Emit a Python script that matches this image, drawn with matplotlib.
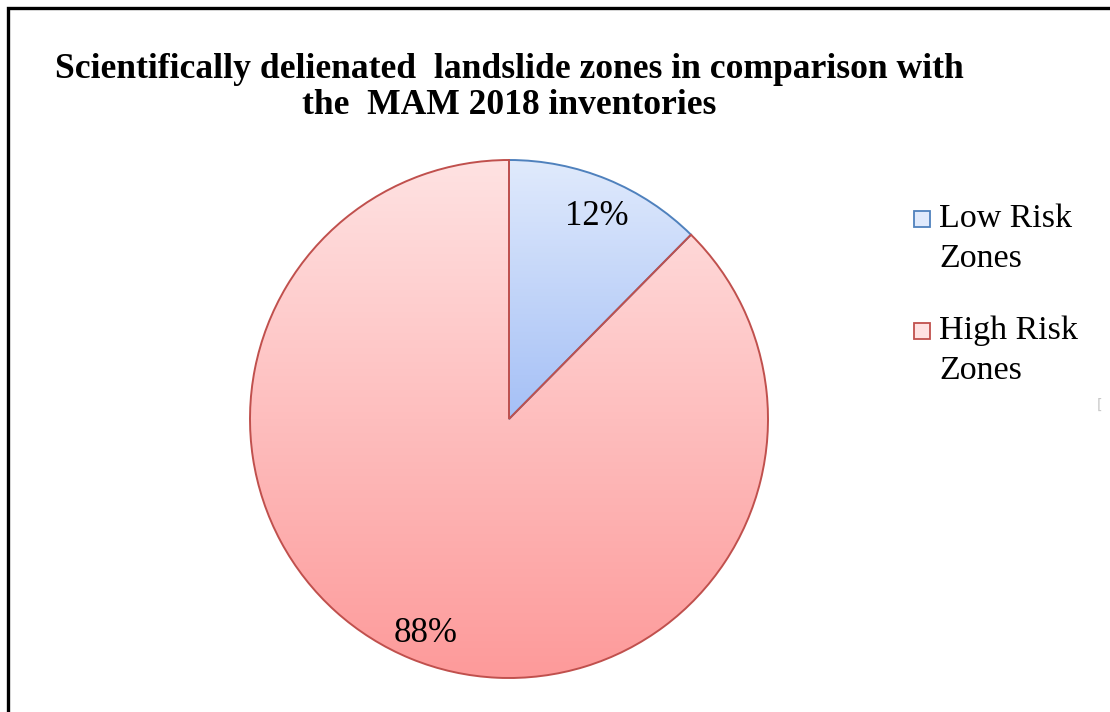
import matplotlib.pyplot as plt
import numpy as np
from matplotlib.colors import LinearSegmentedColormap
from matplotlib.patches import Rectangle

# data
labels = ["Low Risk\nZones", "High Risk\nZones"]
shares = [12.4, 87.6]
title_lines = ["Scientifically delienated  landslide zones in comparison with",
               "the  MAM 2018 inventories"]

# styles
tops = ["#e0eafc", "#ffe2e2"]
bottoms = ["#a5c0f6", "#fd9a9a"]
edges = ["#4f81bd", "#c0504d"]
serif = "Liberation Serif"

W, H = 1110, 712
fig = plt.figure(figsize=(W / 100, H / 100), dpi=100)
ax = fig.add_axes([0, 0, 1, 1])

cx, cy, r = 509, H - 419, 259
wedges, _, pcts = ax.pie(shares, startangle=90, counterclock=False,
                         center=(cx, cy), radius=r, frame=True,
                         autopct=lambda p: f"{p:.0f}%", pctdistance=0.87,
                         wedgeprops=dict(linewidth=1.4),
                         textprops=dict(family=serif, fontsize=25))
ax.set_xlim(0, W)
ax.set_ylim(0, H)
ax.set_aspect("equal")
ax.axis("off")

# gradient fill per wedge, top to bottom of each wedge
grad = np.linspace(0, 1, 256).reshape(-1, 1)
for w, t, b, e in zip(wedges, tops, bottoms, edges):
    w.set_facecolor("none")
    w.set_edgecolor(e)
    w.set_zorder(3)
    bb = w.get_path().get_extents()
    cmap = LinearSegmentedColormap.from_list("g", [t, b])
    im = ax.imshow(grad, cmap=cmap, extent=(bb.x0, bb.x1, bb.y0, bb.y1),
                   origin="upper", aspect="auto", zorder=2)
    im.set_clip_path(w)
for t in pcts:
    t.set_zorder(4)
    x, y = t.get_position()
    t.set_position((x + 2, y - 6))  # small nudge like the original labels

# title
fig.text(509, H - 70, title_lines[0], transform=None, fontsize=25.6,
         family=serif, fontweight="bold", ha="center", va="center")
fig.text(509, H - 105, title_lines[1], transform=None, fontsize=25.6,
         family=serif, fontweight="bold", ha="center", va="center")

# legend drawn by hand: swatch beside the first line of each label
for i, lab in enumerate(labels):
    y0 = H - 219 - 112 * i
    fig.patches.append(Rectangle((914, y0 - 8), 16, 16, transform=None,
                                 facecolor=tops[i], edgecolor=edges[i],
                                 linewidth=1.3))
    for j, line in enumerate(lab.split("\n")):
        fig.text(939, y0 - 40 * j, line, transform=None, fontsize=24.5,
                 family=serif, ha="left", va="center")

fig.text(1100, H - 405, "[", transform=None, fontsize=10, color="#c8c8c8",
         ha="center", va="center")

# outer border (right and bottom sides fall outside the picture)
fig.patches.append(Rectangle((8, -10), W + 20, H - 8 + 10, transform=None,
                             fill=False, edgecolor="black", linewidth=2.4))

fig.savefig("out.png", dpi=100)
